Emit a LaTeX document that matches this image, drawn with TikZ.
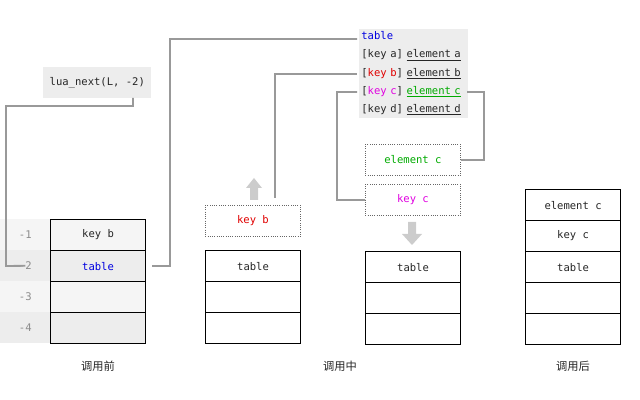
\documentclass[tikz,border=0pt]{standalone}
\usepackage{fontspec}
\setmonofont{DejaVu Sans Mono}
\newfontfamily\cjk{Noto Sans CJK SC}
\usepackage{xcolor}
\definecolor{lgray}{HTML}{EDEDED}
\definecolor{llgray}{HTML}{F5F5F5}
\definecolor{wire}{HTML}{999999}
\definecolor{keyred}{HTML}{E00000}
\definecolor{keymag}{HTML}{E000E0}
\definecolor{elgreen}{HTML}{00AA00}
\definecolor{tblue}{HTML}{0000E0}
\usetikzlibrary{positioning}
\begin{document}
\begin{tikzpicture}[
	x=0.025cm, y=-0.025cm,
	font=\ttfamily\fontsize{7.5}{8}\selectfont, text=black!85,
	cell/.style={draw=black, line width=0.8pt, minimum width=2.375cm, minimum height=0.775cm, anchor=north west, inner sep=0pt},
	pend/.style={draw=black!60, densely dotted, line width=0.6pt, minimum width=2.375cm, minimum height=0.775cm, anchor=north west, inner sep=0pt},
	idx/.style={minimum width=1.25cm, minimum height=0.775cm, anchor=north west, inner sep=0pt, text=black!45},
	wire/.style={draw=wire, line width=1.3pt},
	blockarrow/.style={fill=black!20, draw=none},
	caption/.style={font=\cjk\fontsize{8}{9}\selectfont}
	]
\useasboundingbox (0,0) rectangle (640,400);
% before the call
\node[idx, fill=llgray] (i1) at (0,219) {-1};
\node[idx, fill=lgray]  (i2) at (0,250) {-2};
\node[idx, fill=llgray] (i3) at (0,281) {-3};
\node[idx, fill=lgray]  (i4) at (0,312) {-4};
\node[cell, fill=llgray] (a1) at (50,219) {key b};
\node[cell, fill=lgray]  (a2) at (50,250) {\textcolor{tblue}{table}};
\node[cell, fill=llgray] (a3) at (50,281) {};
\node[cell, fill=lgray]  (a4) at (50,312) {};
\node[caption] (capa) at (98,366) {调用前};
\node[fill=lgray, minimum width=2.7cm, minimum height=0.775cm, anchor=north west] (call) at (43,67) {lua\_next(L, -2)};
% the table
\node[fill=lgray, anchor=north west, inner sep=1.5pt, align=left, text width=2.6cm,
      font=\ttfamily\fontsize{7.5}{13}\selectfont] (tbl) at (359,29) {%
\textcolor{tblue}{table}\\
{[}key a{]} \underline{element a}\\
{[}\textcolor{keyred}{key b}{]} \underline{element b}\\
{[}\textcolor{keymag}{key c}{]} \textcolor{elgreen}{\underline{element c}}\\
{[}key d{]} \underline{element d}};
\coordinate (rowt) at (357,39);
\coordinate (rowb) at (357,74);
\coordinate (rowc) at (357,92);
\coordinate (rowce) at (467,92);
% during the call
\node[pend] (kb) at (205,205) {\textcolor{keyred}{key b}};
\node[cell] (b1) at (205,250) {table};
\node[cell] (b2) at (205,281) {};
\node[cell] (b3) at (205,312) {};
\node[pend] (ec) at (365,144) {\textcolor{elgreen}{element c}};
\node[pend] (kc) at (365,184) {\textcolor{keymag}{key c}};
\node[cell] (c1) at (365,251) {table};
\node[cell] (c2) at (365,282) {};
\node[cell] (c3) at (365,313) {};
\node[caption] (capb) at (340,366) {调用中};
\fill[blockarrow] (250,200) -- (250,188) -- (246,188) -- (254,178) -- (262,188) -- (258,188) -- (258,200) -- cycle;
\fill[blockarrow] (408,222) -- (408,234) -- (402,234) -- (412,245) -- (422,234) -- (416,234) -- (416,222) -- cycle;
% after the call
\node[cell] (d1) at (525,189) {element c};
\node[cell] (d2) at (525,220) {key c};
\node[cell] (d3) at (525,251) {table};
\node[cell] (d4) at (525,282) {};
\node[cell] (d5) at (525,313) {};
\node[caption] (capc) at (573,366) {调用后};
% wires
\draw[wire] (133,98) -- (133,106) -- (6,106) -- (6,266) -- (i2.center);
\draw[wire] (a2.east) ++(6,0) -- (170,266) -- (170,39) -- (rowt);
\draw[wire] (275,198) -- (275,74) -- (rowb);
\draw[wire] (rowc) -- (337,92) -- (337,200) -- (kc.west);
\draw[wire] (rowce) -- (484,92) -- (484,160) -- (ec.east);
\end{tikzpicture}
\end{document}
